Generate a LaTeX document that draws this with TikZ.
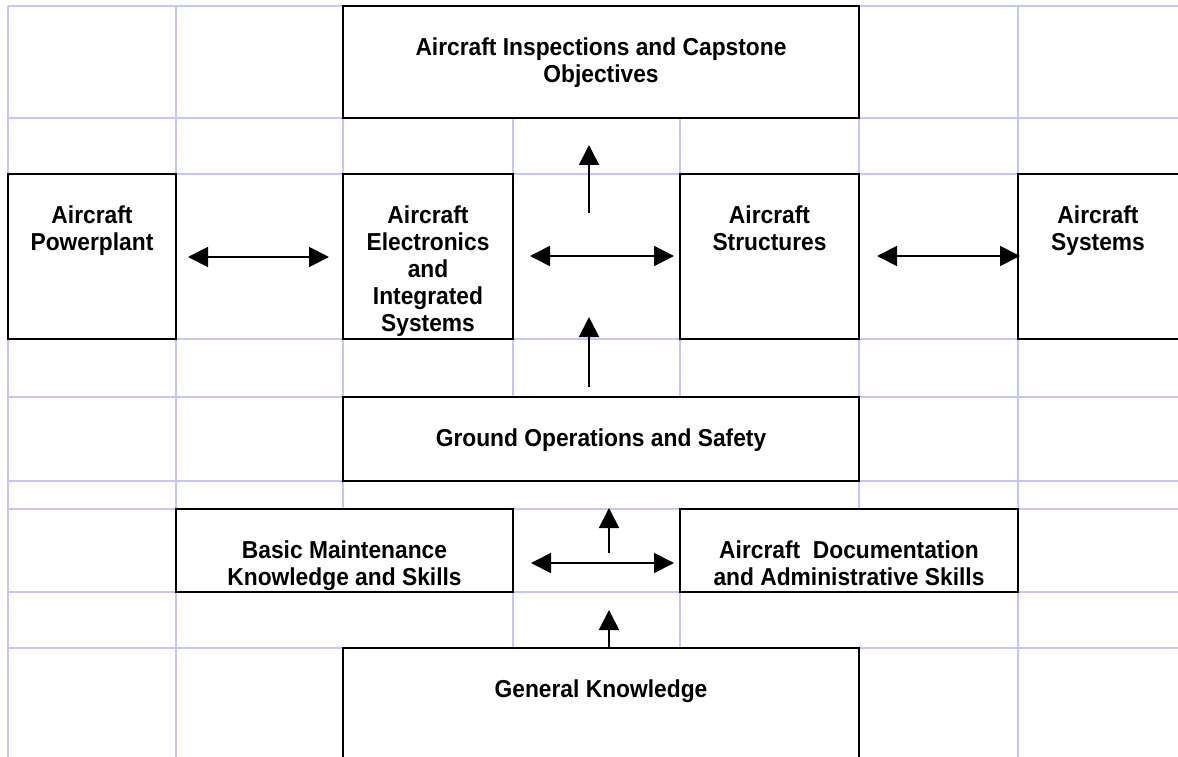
\documentclass[tikz,border=0pt]{standalone}
\usepackage{fontspec}
\setmainfont{Liberation Sans}[FakeStretch=0.93]
\usetikzlibrary{arrows.meta}
\definecolor{gridblue}{RGB}{198,198,255}
% fixed first-line height so every label starts at the same baseline
\newcommand\lblstrut{\rule{0pt}{18.5pt}}
\begin{document}
\begin{tikzpicture}[x=1pt,y=-1pt,
  gridline/.style={draw=gridblue,line width=1.4pt},
  box/.style={draw=black,fill=white,line width=1.6pt,rectangle,inner sep=0pt},
  lbl/.style={inner sep=0pt,align=center,anchor=north,
              font=\fontsize{24.5}{27}\selectfont\bfseries},
  link/.style={line width=1.8pt,-{Triangle[length=20pt,width=20pt]}},
  dlink/.style={line width=1.8pt,{Triangle[length=20pt,width=20pt]}-{Triangle[length=20pt,width=20pt]}}]
\useasboundingbox (0,0) rectangle (1178,757);
\clip (0,0) rectangle (1178,757);
\fill[white] (0,0) rectangle (1178,757);

% layout grid
\foreach \y in {6,118,174,339,397,481,509,592,648}
  \draw[gridline] (8,\y) -- (1185,\y);
\foreach \x in {8,176,1018}
  \draw[gridline] (\x,6) -- (\x,765);
\foreach \x in {343,859}{
  \draw[gridline] (\x,6) -- (\x,509);
  \draw[gridline] (\x,648) -- (\x,765);}
\foreach \x in {513,680}{
  \draw[gridline] (\x,6) -- (\x,481);
  \draw[gridline] (\x,509) -- (\x,765);}

% course blocks
\node[box,minimum width=516pt,minimum height=112pt] (insp) at (601,62) {};
\node[lbl] (insp-t) at (601,36.5) {\lblstrut Aircraft Inspections and Capstone\\Objectives};

\node[box,minimum width=168pt,minimum height=165pt] (power) at (92,256.5) {};
\node[lbl] (power-t) at (92,204.5) {\lblstrut Aircraft\\Powerplant};

\node[box,minimum width=170pt,minimum height=165pt] (elec) at (428,256.5) {};
\node[lbl] (elec-t) at (428,204.5) {\lblstrut Aircraft\\Electronics\\and\\Integrated\\Systems};

\node[box,minimum width=179pt,minimum height=165pt] (struct) at (769.5,256.5) {};
\node[lbl] (struct-t) at (769.5,204.5) {\lblstrut Aircraft\\Structures};

\node[box,minimum width=180pt,minimum height=165pt] (sys) at (1108,256.5) {};
\node[lbl] (sys-t) at (1098,204.5) {\lblstrut Aircraft\\Systems};

\node[box,minimum width=516pt,minimum height=84pt] (ground) at (601,439) {};
\node[lbl] (ground-t) at (601,427.5) {\lblstrut Ground Operations and Safety};

\node[box,minimum width=337pt,minimum height=83pt] (basic) at (344.5,550.5) {};
\node[lbl] (basic-t) at (344.5,539.5) {\lblstrut Basic Maintenance\\Knowledge and Skills};

\node[box,minimum width=338pt,minimum height=83pt] (docs) at (849,550.5) {};
\node[lbl] (docs-t) at (849,539.5) {\lblstrut Aircraft~ Documentation\\and Administrative Skills};

\node[box,minimum width=516pt,minimum height=140pt] (general) at (601,718) {};
\node[lbl] (general-t) at (601,678.5) {\lblstrut General Knowledge};

% arrow end points
\coordinate (a1l) at (188,257);  \coordinate (a1r) at (329,257);
\coordinate (a2l) at (530,256);  \coordinate (a2r) at (674,256);
\coordinate (a3l) at (877,256);  \coordinate (a3r) at (1020,256);
\coordinate (u1b) at (589,213);  \coordinate (u1t) at (589,145);
\coordinate (u2b) at (589,387);  \coordinate (u2t) at (589,317);
\coordinate (a4l) at (531,563);  \coordinate (a4r) at (674,563);
\coordinate (u3b) at (609,553);  \coordinate (u3t) at (609,508);
\coordinate (u4t) at (609,610);

% connectors
\draw[dlink] (a1l) -- (a1r);
\draw[dlink] (a2l) -- (a2r);
\draw[dlink] (a3l) -- (a3r);
\draw[link] (u1b) -- (u1t);
\draw[link] (u2b) -- (u2t);
\draw[dlink] (a4l) -- (a4r);
\draw[link] (u3b) -- (u3t);
\draw[link] (general.north -| u4t) -- (u4t);
\end{tikzpicture}
\end{document}
